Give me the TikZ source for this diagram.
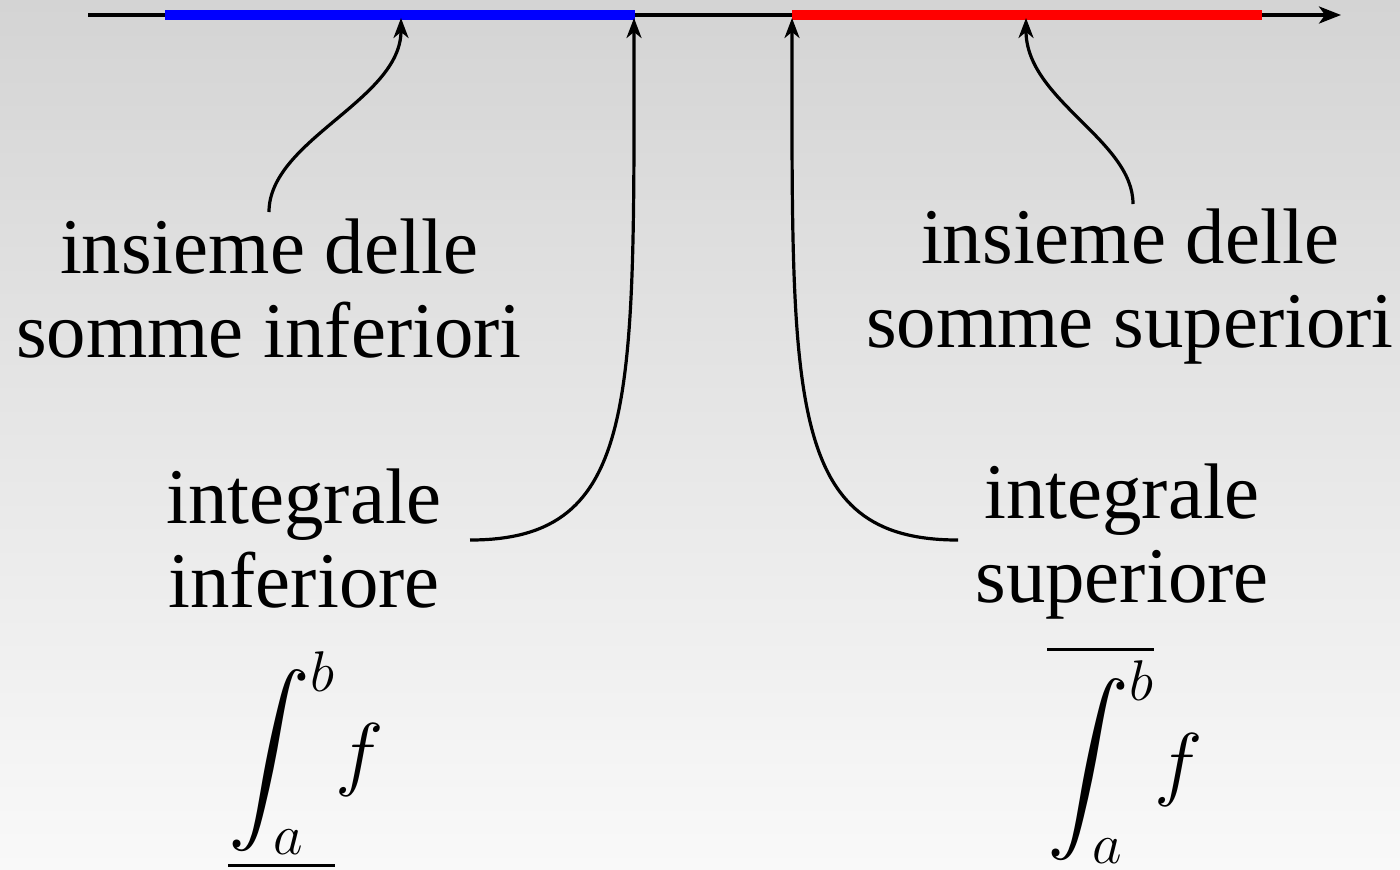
\RequirePackage{fix-cm}
\documentclass[tikz,border=0pt]{standalone}
\usepackage{amsmath}
\usepackage{fontspec}
\setmainfont{Liberation Serif}
\DeclareFontFamily{OMX}{cmex}{}
\DeclareFontShape{OMX}{cmex}{m}{n}{<->cmex10}{}
\usetikzlibrary{arrows.meta}
\definecolor{bgtop}{RGB}{212,212,212}
\definecolor{bgbot}{RGB}{249,249,249}
\tikzset{
  conn/.style={line width=1.6pt, -{Stealth[length=10pt,width=7.5pt,inset=3pt]}},
  lbl/.style={align=center, anchor=base, inner sep=0pt, font=\fontsize{39.4}{42}\selectfont},
  mathlbl/.style={inner sep=0pt, font=\fontsize{41}{46}\selectfont},
}
\begin{document}
\begin{tikzpicture}[x=0.5pt,y=-0.5pt]
\shade[top color=bgtop, bottom color=bgbot] (0,0) rectangle (1400,869);
\useasboundingbox (0,0) rectangle (1400,869);
% axis
\coordinate (ax0) at (88,15);
\coordinate (ax1) at (1341,15);
\draw[line width=1.8pt, -{Stealth[length=11pt,width=8.5pt,inset=3pt]}] (ax0) -- (ax1);
\coordinate (b0) at (165,15);
\coordinate (b1) at (635,15);
\coordinate (r0) at (792,15);
\coordinate (r1) at (1262,15);
\draw[blue, line width=5pt] (b0) -- (b1);
\draw[red, line width=5pt] (r0) -- (r1);
% labels (base = last line)
\node[lbl] (sinf) at (269,357) {insieme delle\\somme inferiori};
\node[lbl] (ssup) at (1130,347) {insieme delle\\somme superiori};
\node[lbl] (iinf) at (304,607) {integrale\\inferiore};
\node[lbl] (isup) at (1122,602) {integrale\\superiore};
\node[mathlbl, anchor=south west] (finf) at (228,871) {$\displaystyle\underline{\int_a^b} f$};
\node[mathlbl, anchor=north west] (fsup) at (1047,644) {$\displaystyle\overline{\int_a^b} f$};
% connector ends
\coordinate (c1s) at (269,212);
\coordinate (c1e) at (401,18);
\coordinate (c2s) at (470,540);
\coordinate (c2e) at (634,18);
\coordinate (c3s) at (958,540);
\coordinate (c3e) at (792,18);
\coordinate (c4s) at (1133,204);
\coordinate (c4e) at (1026,18);
\draw[conn] (c1s) .. controls (269,140) and (401,100) .. (c1e);
\draw[conn] (c2s) .. controls (640,540) and (634,400) .. (c2e);
\draw[conn] (c3s) .. controls (786,540) and (792,400) .. (c3e);
\draw[conn] (c4s) .. controls (1133,140) and (1026,100) .. (c4e);
\end{tikzpicture}
\end{document}
